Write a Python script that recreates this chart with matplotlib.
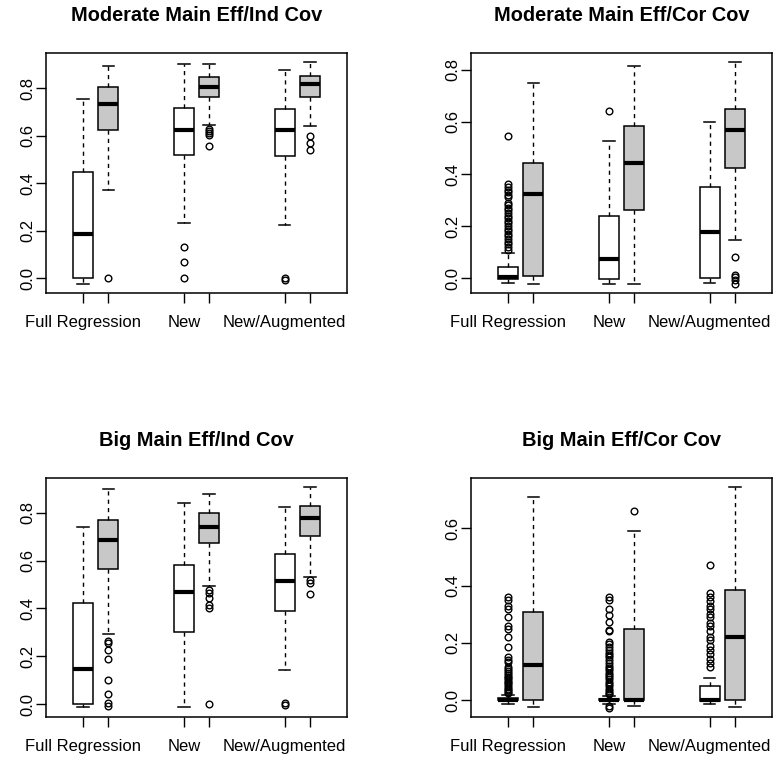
import matplotlib.pyplot as plt

# fonts close to R's Helvetica look
plt.rcParams['font.family'] = ['Liberation Sans', 'DejaVu Sans']

# box positions and labels (white / gray pairs)
positions = [1, 2, 5, 6, 9, 10]
tick_labels = ['Full Regression', '', 'New', '', 'New/Augmented', '']
box_colors = ['white', '#C8C8C8', 'white', '#C8C8C8', 'white', '#C8C8C8']

titles = ['Moderate Main Eff/Ind Cov', 'Moderate Main Eff/Cor Cov',
          'Big Main Eff/Ind Cov', 'Big Main Eff/Cor Cov']

# panel 1: Moderate Main Eff/Ind Cov
p1_whislo = [-0.024, 0.372, 0.234, 0.646, 0.223, 0.641]
p1_q1 = [0.0, 0.623, 0.521, 0.765, 0.516, 0.762]
p1_med = [0.185, 0.733, 0.625, 0.806, 0.625, 0.818]
p1_q3 = [0.446, 0.804, 0.719, 0.848, 0.712, 0.851]
p1_whishi = [0.755, 0.893, 0.902, 0.901, 0.879, 0.909]
p1_fliers = [[], [0.0], [0.131, 0.070, 0.0],
             [0.628, 0.620, 0.612, 0.605, 0.559], [0.003, -0.007],
             [0.600, 0.571, 0.540]]

# panel 2: Moderate Main Eff/Cor Cov
p2_whislo = [-0.019, -0.022, -0.022, -0.022, -0.017, 0.145]
p2_q1 = [-0.003, 0.010, -0.003, 0.262, 0.0, 0.424]
p2_med = [0.003, 0.323, 0.073, 0.444, 0.177, 0.570]
p2_q3 = [0.041, 0.444, 0.238, 0.584, 0.349, 0.649]
p2_whishi = [0.097, 0.749, 0.525, 0.814, 0.598, 0.829]
p2_fliers = [[0.11, 0.12, 0.13, 0.14, 0.15, 0.16, 0.17, 0.18, 0.19, 0.20,
              0.21, 0.22, 0.23, 0.24, 0.25, 0.26, 0.27, 0.28, 0.29, 0.31,
              0.32, 0.33, 0.34, 0.35, 0.36, 0.545],
             [], [0.643], [], [],
             [0.081, 0.013, 0.004, -0.006, -0.022]]

# panel 3: Big Main Eff/Ind Cov
p3_whislo = [-0.014, 0.293, -0.011, 0.495, 0.142, 0.533]
p3_q1 = [0.0, 0.567, 0.300, 0.673, 0.389, 0.705]
p3_med = [0.146, 0.686, 0.467, 0.739, 0.517, 0.780]
p3_q3 = [0.425, 0.772, 0.581, 0.800, 0.630, 0.828]
p3_whishi = [0.741, 0.898, 0.842, 0.881, 0.825, 0.909]
p3_fliers = [[], [0.265, 0.256, 0.226, 0.190, 0.100, 0.042, 0.003, -0.008],
             [], [0.477, 0.463, 0.442, 0.414, 0.404, 0.0],
             [0.006, -0.004], [0.520, 0.505, 0.460]]

# panel 4: Big Main Eff/Cor Cov
p4_whislo = [-0.015, -0.023, -0.015, -0.020, -0.014, -0.023]
p4_q1 = [0.0, 0.0, 0.0, 0.0, -0.003, 0.0]
p4_med = [0.002, 0.122, 0.002, 0.0, 0.0, 0.219]
p4_q3 = [0.006, 0.309, 0.005, 0.248, 0.049, 0.385]
p4_whishi = [0.017, 0.709, 0.015, 0.591, 0.077, 0.746]
p4_fliers = [[0.361, 0.350, 0.330, 0.317, 0.291, 0.259, 0.250, 0.219, 0.186,
              0.151, 0.140, 0.134, 0.116, 0.108, 0.100, 0.094, 0.088, 0.082,
              0.076, 0.070, 0.064, 0.058, 0.052, 0.046, 0.040, 0.034, 0.029,
              0.024],
             [],
             [0.361, 0.350, 0.320, 0.297, 0.274, 0.245, 0.240, 0.204, 0.195,
              0.186, 0.175, 0.166, 0.158, 0.150, 0.140, 0.130, 0.120, 0.112,
              0.105, 0.095, 0.088, 0.080, 0.072, 0.064, 0.056, 0.048, 0.040,
              0.033, 0.026, 0.020, -0.020, -0.029],
             [0.661],
             [0.472, 0.373, 0.360, 0.345, 0.330, 0.320, 0.300, 0.290, 0.270,
              0.260, 0.240, 0.220, 0.210, 0.190, 0.175, 0.160, 0.145, 0.130,
              0.116],
             []]

panels = [
    (p1_whislo, p1_q1, p1_med, p1_q3, p1_whishi, p1_fliers),
    (p2_whislo, p2_q1, p2_med, p2_q3, p2_whishi, p2_fliers),
    (p3_whislo, p3_q1, p3_med, p3_q3, p3_whishi, p3_fliers),
    (p4_whislo, p4_q1, p4_med, p4_q3, p4_whishi, p4_fliers),
]

# axes rectangles (left, bottom, width, height) in figure fractions
rects = [
    [0.0594, 0.6155, 0.3884, 0.315],
    [0.6077, 0.6155, 0.3884, 0.315],
    [0.0594, 0.0591, 0.3884, 0.3136],
    [0.6077, 0.0591, 0.3884, 0.3136],
]
ylims = [(-0.062, 0.949), (-0.057, 0.865), (-0.054, 0.946), (-0.059, 0.776)]
yticks = [[0, 0.2, 0.4, 0.6, 0.8]] * 3 + [[0, 0.2, 0.4, 0.6]]

fig = plt.figure(figsize=(7.75, 7.62), dpi=100)

for k in range(4):
    ax = fig.add_axes(rects[k])
    wl, q1, med, q3, wh, fl = panels[k]
    stats = []
    for i in range(6):
        stats.append(dict(whislo=wl[i], q1=q1[i], med=med[i], q3=q3[i],
                          whishi=wh[i], fliers=fl[i]))
    bp = ax.bxp(stats, positions=positions, widths=0.8, capwidths=0.45,
                patch_artist=True,
                boxprops=dict(edgecolor='black', linewidth=1.1),
                medianprops=dict(color='black', linewidth=3.0,
                                 solid_capstyle='butt'),
                whiskerprops=dict(color='black', linewidth=1.0,
                                  linestyle=(0, (3, 3))),
                capprops=dict(color='black', linewidth=1.1),
                flierprops=dict(marker='o', markerfacecolor='none',
                                markeredgecolor='black', markersize=4.8,
                                markeredgewidth=1.0))
    for i, b in enumerate(bp['boxes']):
        b.set_facecolor(box_colors[i])

    ax.set_xlim(-0.47, 11.47)
    ax.set_ylim(ylims[k])
    ax.set_xticks(positions)
    ax.set_xticklabels(tick_labels, fontsize=12)
    ax.set_yticks(yticks[k])
    ax.set_yticklabels(['%.1f' % v for v in yticks[k]], fontsize=12,
                       rotation=90, va='center')
    ax.tick_params(axis='x', length=7.5, width=1.0, pad=8.5)
    ax.tick_params(axis='y', length=7.5, width=1.0, pad=0)
    for s in ax.spines.values():
        s.set_linewidth(1.1)
    ax.set_title(titles[k], fontsize=14.4, fontweight='bold', pad=23)

fig.savefig('out.png', dpi=100)
